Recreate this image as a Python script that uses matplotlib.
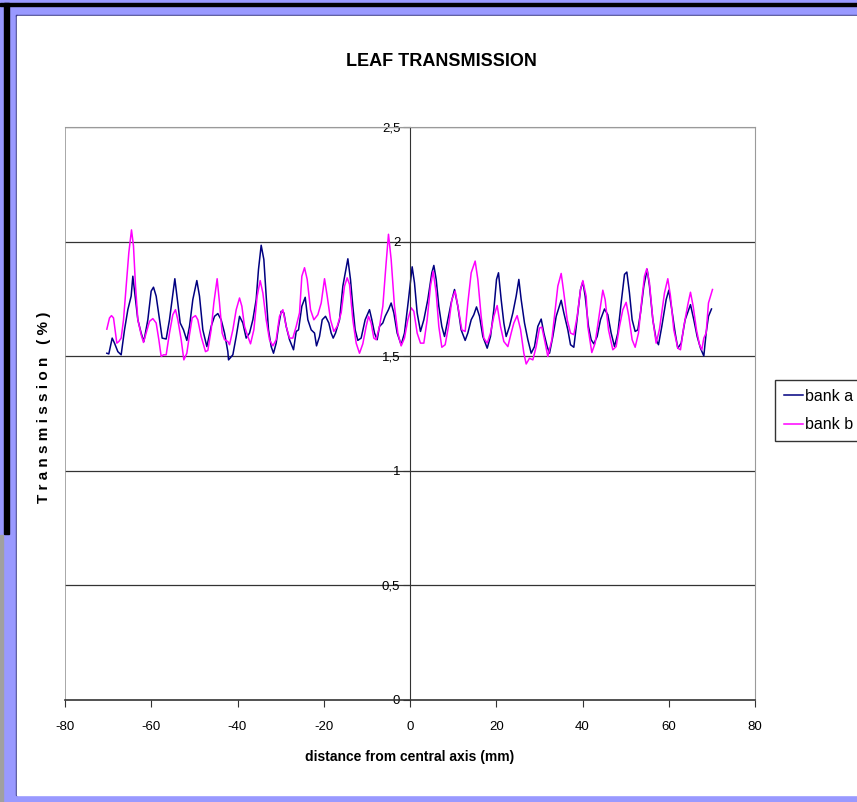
import numpy as np
import matplotlib
matplotlib.use('Agg')
import matplotlib.pyplot as plt
from matplotlib.patches import Rectangle

plt.rcParams['font.family'] = ['Liberation Sans', 'DejaVu Sans']
plt.rcParams['axes.unicode_minus'] = False

# leaf transmission profiles (distance in mm, transmission in %)
x_a = [-70.30, -69.84, -69.06, -68.52, -67.75, -66.98, -66.20, -65.43, -64.66, -64.27,
       -63.65, -63.11, -62.34, -61.72, -60.79, -60.02, -59.48, -58.86, -58.09, -57.47,
       -56.54, -55.77, -55.15, -54.53, -53.84, -53.29, -52.52, -51.75, -51.13, -50.36,
       -49.43, -48.81, -48.04, -47.11, -46.11, -45.33, -44.56, -43.79, -43.01, -42.24,
       -42.08, -41.08, -40.30, -39.53, -38.76, -37.99, -37.21, -36.44, -35.67, -35.13,
       -34.51, -33.89, -33.35, -32.81, -32.19, -31.65, -31.03, -30.49, -29.87, -29.25,
       -28.71, -27.94, -27.01, -26.39, -25.85, -25.08, -24.30, -23.69, -22.91, -22.14,
       -21.68, -20.98, -20.36, -19.59, -18.82, -18.28, -17.81, -17.27, -16.34, -15.57,
       -14.41, -13.80, -13.26, -12.72, -12.10, -11.33, -10.40, -9.39, -8.85, -8.23,
       -7.62, -7.07, -6.30, -5.76, -4.99, -4.37, -3.75, -2.98, -2.05, -1.28,
       -0.35, 0.50, 1.04, 1.66, 2.43, 3.21, 4.13, 5.06, 5.53, 6.07,
       6.68, 7.38, 8.00, 8.77, 9.54, 10.32, 11.09, 11.86, 12.79, 13.41,
       14.19, 14.80, 15.42, 16.12, 16.89, 17.90, 18.67, 19.44, 20.06, 20.52,
       21.14, 21.76, 22.30, 23.07, 23.85, 24.62, 25.24, 25.78, 26.55, 27.33,
       28.10, 28.87, 29.64, 30.42, 31.04, 31.81, 32.35, 33.12, 33.90, 35.06,
       35.67, 36.60, 37.22, 37.99, 38.92, 39.54, 40.08, 40.62, 41.39, 42.01,
       42.62, 43.40, 44.17, 45.10, 45.87, 46.64, 47.42, 48.19, 48.96, 49.74,
       50.28, 50.89, 51.51, 52.21, 52.83, 53.45, 54.22, 54.99, 55.53, 56.31,
       57.08, 57.62, 58.39, 59.40, 60.02, 60.71, 61.49, 62.10, 62.88, 63.80,
       65.04, 65.81, 66.59, 67.36, 68.13, 68.67, 69.21, 69.91]
bank_a = [1.513, 1.510, 1.579, 1.557, 1.520, 1.506, 1.615, 1.703, 1.762, 1.849,
          1.747, 1.659, 1.601, 1.564, 1.659, 1.784, 1.801, 1.762, 1.659, 1.579,
          1.575, 1.659, 1.747, 1.838, 1.732, 1.645, 1.615, 1.569, 1.630, 1.747,
          1.830, 1.762, 1.615, 1.542, 1.630, 1.674, 1.686, 1.659, 1.601, 1.520,
          1.484, 1.506, 1.586, 1.674, 1.645, 1.579, 1.601, 1.659, 1.747, 1.879,
          1.984, 1.922, 1.762, 1.615, 1.542, 1.513, 1.557, 1.630, 1.696, 1.689,
          1.630, 1.572, 1.528, 1.608, 1.615, 1.718, 1.757, 1.659, 1.615, 1.601,
          1.545, 1.586, 1.659, 1.674, 1.645, 1.601, 1.579, 1.601, 1.659, 1.806,
          1.925, 1.835, 1.718, 1.615, 1.569, 1.579, 1.659, 1.703, 1.659, 1.601,
          1.572, 1.630, 1.645, 1.674, 1.703, 1.732, 1.689, 1.601, 1.550, 1.601,
          1.747, 1.890, 1.820, 1.689, 1.608, 1.659, 1.747, 1.864, 1.896, 1.835,
          1.718, 1.630, 1.586, 1.659, 1.732, 1.791, 1.718, 1.615, 1.569, 1.601,
          1.659, 1.681, 1.715, 1.674, 1.586, 1.535, 1.586, 1.703, 1.835, 1.864,
          1.747, 1.645, 1.586, 1.630, 1.689, 1.762, 1.835, 1.747, 1.645, 1.572,
          1.513, 1.542, 1.630, 1.662, 1.601, 1.542, 1.513, 1.586, 1.674, 1.744,
          1.689, 1.615, 1.550, 1.539, 1.689, 1.791, 1.825, 1.762, 1.630, 1.572,
          1.554, 1.586, 1.659, 1.706, 1.681, 1.601, 1.542, 1.601, 1.732, 1.857,
          1.867, 1.776, 1.659, 1.608, 1.615, 1.689, 1.806, 1.879, 1.806, 1.659,
          1.572, 1.550, 1.630, 1.747, 1.788, 1.703, 1.601, 1.535, 1.557, 1.659,
          1.725, 1.659, 1.586, 1.535, 1.501, 1.601, 1.674, 1.706]

x_b = [-70.30, -69.68, -69.22, -68.75, -68.29, -67.98, -67.52, -66.98, -66.43, -65.82,
       -65.20, -64.58, -64.12, -63.65, -63.11, -62.34, -61.80, -61.18, -60.41, -59.63,
       -58.86, -58.24, -57.70, -57.16, -56.54, -55.77, -55.00, -54.38, -53.84, -53.06,
       -52.44, -51.75, -51.13, -50.51, -49.74, -49.20, -48.43, -47.42, -46.88, -46.11,
       -45.49, -44.72, -44.17, -43.56, -43.01, -42.24, -41.85, -41.08, -40.30, -39.53,
       -38.99, -38.37, -37.60, -36.98, -36.21, -35.44, -34.74, -34.12, -33.35, -32.58,
       -31.80, -31.03, -30.26, -29.48, -28.71, -27.94, -27.17, -26.39, -25.62, -25.08,
       -24.46, -23.84, -23.07, -22.29, -21.37, -20.59, -19.82, -19.20, -18.43, -17.66,
       -16.88, -15.96, -15.18, -14.57, -14.02, -13.26, -12.48, -11.71, -10.94, -10.17,
       -9.62, -9.01, -8.39, -7.85, -7.07, -6.30, -5.53, -4.99, -4.37, -3.60,
       -2.82, -2.05, -1.28, -0.50, 0.27, 0.89, 1.66, 2.43, 3.21, 3.98,
       4.75, 5.37, 6.07, 6.68, 7.38, 8.15, 8.92, 9.70, 10.47, 11.24,
       12.02, 12.79, 13.41, 14.19, 15.11, 15.73, 16.50, 17.12, 17.90, 18.67,
       19.44, 20.21, 20.99, 21.76, 22.69, 23.46, 24.08, 24.85, 25.62, 26.40,
       26.94, 27.71, 28.49, 29.26, 30.03, 30.57, 31.19, 31.96, 32.89, 33.66,
       34.28, 35.06, 35.67, 36.45, 37.22, 37.99, 38.77, 39.54, 40.08, 40.85,
       41.23, 42.16, 42.93, 43.71, 44.71, 45.25, 46.03, 47.03, 47.80, 48.58,
       49.35, 50.12, 50.74, 51.51, 52.21, 52.98, 53.75, 54.37, 54.91, 55.53,
       56.31, 57.08, 57.85, 59.01, 59.78, 60.40, 61.17, 62.10, 62.72, 63.49,
       64.42, 65.04, 65.66, 66.43, 67.13, 67.67, 68.13, 68.67, 69.21, 70.14]
bank_b = [1.618, 1.667, 1.677, 1.667, 1.601, 1.557, 1.564, 1.579, 1.659, 1.806,
          1.952, 2.051, 1.981, 1.806, 1.659, 1.594, 1.560, 1.601, 1.652, 1.664,
          1.645, 1.572, 1.499, 1.506, 1.506, 1.601, 1.681, 1.703, 1.659, 1.572,
          1.484, 1.513, 1.594, 1.667, 1.677, 1.659, 1.586, 1.520, 1.525, 1.615,
          1.732, 1.838, 1.732, 1.601, 1.572, 1.564, 1.550, 1.615, 1.703, 1.754,
          1.718, 1.630, 1.586, 1.554, 1.615, 1.762, 1.830, 1.776, 1.659, 1.572,
          1.545, 1.572, 1.674, 1.703, 1.630, 1.579, 1.579, 1.630, 1.689, 1.849,
          1.886, 1.835, 1.703, 1.659, 1.681, 1.732, 1.838, 1.762, 1.659, 1.608,
          1.630, 1.689, 1.806, 1.842, 1.813, 1.659, 1.557, 1.513, 1.554, 1.630,
          1.674, 1.645, 1.579, 1.572, 1.630, 1.718, 1.908, 2.032, 1.922, 1.718,
          1.601, 1.545, 1.579, 1.659, 1.711, 1.696, 1.601, 1.557, 1.557, 1.659,
          1.806, 1.871, 1.776, 1.630, 1.539, 1.550, 1.630, 1.747, 1.784, 1.703,
          1.615, 1.608, 1.732, 1.864, 1.915, 1.835, 1.674, 1.579, 1.557, 1.601,
          1.674, 1.721, 1.630, 1.564, 1.542, 1.601, 1.645, 1.677, 1.618, 1.513,
          1.466, 1.491, 1.484, 1.542, 1.623, 1.627, 1.572, 1.499, 1.572, 1.703,
          1.806, 1.861, 1.776, 1.659, 1.601, 1.594, 1.674, 1.791, 1.830, 1.762,
          1.630, 1.516, 1.557, 1.659, 1.788, 1.747, 1.615, 1.528, 1.542, 1.630,
          1.703, 1.735, 1.674, 1.572, 1.539, 1.601, 1.747, 1.849, 1.882, 1.820,
          1.659, 1.557, 1.618, 1.776, 1.838, 1.762, 1.615, 1.535, 1.528, 1.630,
          1.725, 1.779, 1.718, 1.615, 1.550, 1.528, 1.579, 1.601, 1.732, 1.791]

x_ticks = [-80, -60, -40, -20, 0, 20, 40, 60, 80]
y_ticks = [0, 0.5, 1, 1.5, 2, 2.5]
y_tick_labels = ['0', '0,5', '1', '1,5', '2', '2,5']

W, H = 857, 802
fig = plt.figure(figsize=(W / 100, H / 100), dpi=100)

# slide frame drawn in pixel units behind the chart
bg = fig.add_axes([0, 0, 1, 1], zorder=-5)
bg.set_xlim(0, W)
bg.set_ylim(H, 0)
bg.axis('off')
bg.add_patch(Rectangle((0, 0), W, H, color='#9999ff'))
bg.add_patch(Rectangle((0, 3), W, 3, color='black'))
bg.add_patch(Rectangle((4, 3), 5, 531, color='black'))
bg.add_patch(Rectangle((0, 535), 3, H - 535, color='#a0a0a0'))
bg.add_patch(Rectangle((16, 15), W, 1.2, color='#3c3c8c'))
bg.add_patch(Rectangle((16, 15), 1.2, 780, color='#3c3c8c'))
bg.add_patch(Rectangle((17, 16), W, 779, color='white'))

ax = fig.add_axes([65 / W, 1 - 700 / H, 690 / W, 573 / H])
ax.plot(x_a, bank_a, color='#000080', lw=1.1, label='bank a')
ax.plot(x_b, bank_b, color='#ff00ff', lw=1.1, label='bank b')

ax.set_xlim(-80, 80)
ax.set_ylim(0, 2.5)
ax.set_xticks(x_ticks)
ax.set_yticks(y_ticks)
ax.set_yticklabels(y_tick_labels)
for yv in y_ticks[1:]:
    ax.axhline(yv, color='#333333', lw=0.9, zorder=0)

# y axis sits on x = 0, the plot box is grey
ax.spines['left'].set_position(('data', 0))
ax.spines['left'].set_color('#333333')
ax.spines['bottom'].set_color('#333333')
ax.spines['bottom'].set_linewidth(1.2)
for s in ['top', 'right']:
    ax.spines[s].set_color('#9a9a9a')
ax.axvline(-80, color='#9a9a9a', lw=1.2, zorder=0)

ax.tick_params(axis='both', direction='out', length=5, width=0.8, color='#333333',
               labelsize=9.5, pad=2)
ax.tick_params(axis='x', pad=10)

fig.text(441 / W, 1 - 62 / H, 'LEAF TRANSMISSION', fontsize=13, fontweight='bold',
         ha='center', va='center')
ax.set_xlabel('distance from central axis (mm)', fontsize=10, fontweight='bold', labelpad=12)
ax.set_ylabel('T r a n s m i s s i o n   ( % )', fontsize=11, fontweight='bold')
ax.yaxis.set_label_coords(-0.021, 0.51)

ax.legend(loc='upper left', bbox_to_anchor=(775 / W, 1 - 380 / H),
          bbox_transform=fig.transFigure, fontsize=11.5, frameon=True, fancybox=False,
          edgecolor='black', handlelength=1.2, handletextpad=0.15, borderpad=0.55,
          labelspacing=0.85, borderaxespad=0, handleheight=0.6)

fig.savefig('out.png', dpi=100)
